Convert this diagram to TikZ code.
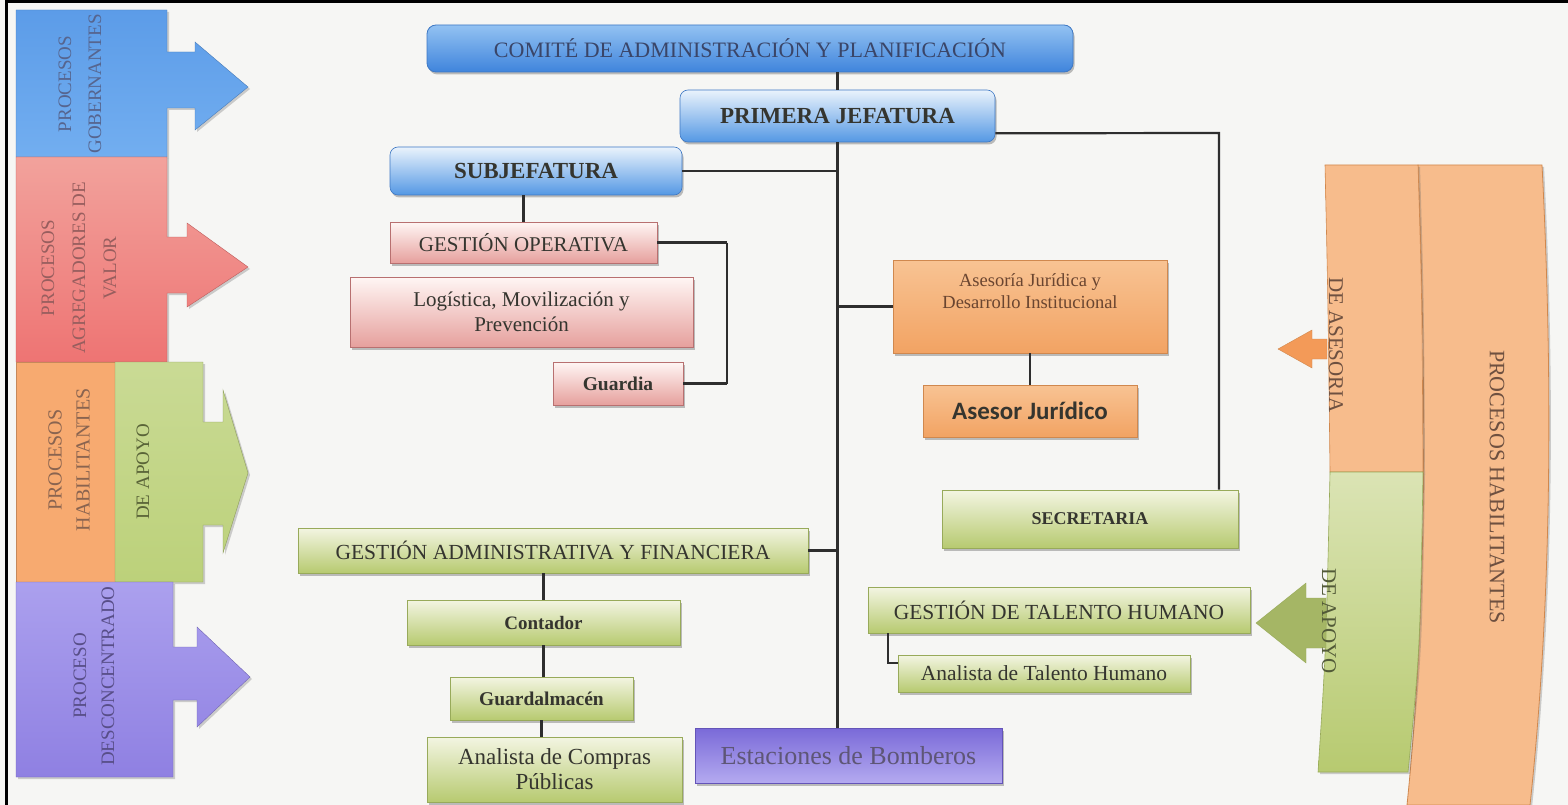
\documentclass[tikz,border=0pt]{standalone}
\usepackage{fontspec}
\setmainfont{Liberation Serif}
\newfontfamily\carlito{Carlito}
\usetikzlibrary{shadows,calc}
\definecolor{bgc}{HTML}{F6F6F4}
\definecolor{linec}{HTML}{2E2E2E}
\definecolor{blueD}{HTML}{3E78C4}
\definecolor{blueL}{HTML}{EAF3FC}
\definecolor{blueM}{HTML}{5498E4}
\definecolor{blueT}{HTML}{93C2F2}
\definecolor{blueB}{HTML}{3F84DC}
\definecolor{pinkL}{HTML}{FFF6F4}
\definecolor{pinkM}{HTML}{E6A09D}
\definecolor{pinkD}{HTML}{B87070}
\definecolor{orL}{HTML}{F8C393}
\definecolor{orM}{HTML}{F2A363}
\definecolor{orD}{HTML}{D0884E}
\definecolor{grL}{HTML}{F3F5E2}
\definecolor{grM}{HTML}{B7CA70}
\definecolor{grD}{HTML}{98AA5A}
\definecolor{puT}{HTML}{7A6AD8}
\definecolor{puB}{HTML}{B4AAF0}
\definecolor{puD}{HTML}{6454B8}
\definecolor{txt}{HTML}{35352F}
\definecolor{comtxt}{HTML}{3A4568}
\definecolor{asetxt}{HTML}{6A4530}
\definecolor{esttxt}{HTML}{5E5676}
\definecolor{bandBlue1}{HTML}{5C9CE8}
\definecolor{bandBlue2}{HTML}{72AEF0}
\definecolor{bandBlueT}{HTML}{56658F}
\definecolor{bandRed1}{HTML}{F2A29C}
\definecolor{bandRed2}{HTML}{EE7473}
\definecolor{bandRedT}{HTML}{985E5E}
\definecolor{bandOr}{HTML}{F7AA70}
\definecolor{bandOrT}{HTML}{8A6450}
\definecolor{bandGr}{HTML}{BCD17A}
\definecolor{bandGrT}{HTML}{5A6438}
\definecolor{bandPu1}{HTML}{ABA0EE}
\definecolor{bandPu2}{HTML}{8F80E2}
\definecolor{bandPuT}{HTML}{584E88}
\definecolor{rOrA}{HTML}{F7BC8C}
\definecolor{rOrB}{HTML}{F39A58}
\definecolor{rOrT}{HTML}{6E5040}
\definecolor{rGrT}{HTML}{525A38}
\tikzset{
  conn/.style={draw=linec, line width=2.2pt},
  shad/.style={drop shadow={shadow xshift=1.5pt, shadow yshift=-2.5pt, opacity=0.35, fill=black!70}},
  bandshad/.style={drop shadow={shadow xshift=2pt, shadow yshift=-2pt, opacity=0.3, fill=black!60}},
  bluebig/.style={shad, rounded corners=9pt, draw=blueD, line width=0.8pt, top color=blueT, bottom color=blueB, inner sep=2pt},
  bluebox/.style={shad, rounded corners=8pt, draw=blueD, line width=0.6pt, top color=blueL, bottom color=blueM, inner sep=2pt, text=txt, font=\fontsize{23}{27}\selectfont\bfseries},
  pinkbox/.style={shad, draw=pinkD, line width=0.6pt, top color=pinkL, bottom color=pinkM, inner sep=2pt, align=center, text=txt},
  orbox/.style={shad, draw=orD, line width=0.6pt, top color=orL, bottom color=orM, inner sep=2pt, align=center},
  grbox/.style={shad, draw=grD, line width=0.6pt, top color=grL, bottom color=grM, inner sep=2pt, align=center, text=txt},
  pubox/.style={shad, draw=puD, line width=0.6pt, top color=puT, bottom color=puB, inner sep=2pt, text=esttxt},
  bandtxt/.style={align=center, inner sep=0pt},
}
\begin{document}
\begin{tikzpicture}[x=1pt,y=-1pt]
\useasboundingbox (0,0) rectangle (1568,805);
\fill[bgc] (0,0) rectangle (1568,805);
\draw[black, line width=3pt] (6,805) -- (6,1.5) -- (1568,1.5);

% ---------- left bands ----------
\path[bandshad, top color=bandBlue1, bottom color=bandBlue2, draw=bandBlue1!80!black, line width=0.4pt]
  (16,10) -- (167,10) -- (167,52) -- (195,52) -- (195,42) -- (248,87) -- (195,130) -- (195,108) -- (167,108) -- (167,157) -- (16,157) -- cycle;
\path[bandshad, top color=bandRed1, bottom color=bandRed2, draw=bandRed2!80!black, line width=0.4pt]
  (16,157) -- (167,157) -- (167,237) -- (187,237) -- (187,223) -- (248,267) -- (187,307) -- (187,293) -- (167,293) -- (167,362) -- (16,362) -- cycle;
\path[bandshad, fill=bandOr, draw=bandOr!80!black, line width=0.4pt]
  (16,362) rectangle (115,582);
\path[bandshad, top color=bandGr!80!white, bottom color=bandGr, draw=bandGr!75!black, line width=0.4pt]
  (115,362) -- (203,362) -- (203,422) -- (223,422) -- (223,390) -- (248,473) -- (223,553) -- (223,525) -- (203,525) -- (203,582) -- (115,582) -- cycle;
\path[bandshad, top color=bandPu1, bottom color=bandPu2, draw=bandPu2!80!black, line width=0.4pt]
  (16,582) -- (173,582) -- (173,647) -- (197,647) -- (197,627) -- (250,677) -- (197,727) -- (197,700) -- (173,700) -- (173,777) -- (16,777) -- cycle;

\node[bandtxt, rotate=90, text=bandBlueT, font=\fontsize{19}{30}\selectfont] (tgob) at (80,84) {PROCESOS\\GOBERNANTES};
\node[bandtxt, rotate=90, text=bandRedT, font=\fontsize{19}{31}\selectfont] (tagr) at (79,268) {PROCESOS\\AGREGADORES DE\\VALOR};
\node[bandtxt, rotate=90, text=bandOrT, font=\fontsize{20}{28}\selectfont] (thab) at (69,460) {PROCESOS\\HABILITANTES};
\node[bandtxt, rotate=90, text=bandGrT, font=\fontsize{19}{28}\selectfont] (tapo) at (143,472) {DE APOYO};
\node[bandtxt, rotate=90, text=bandPuT, font=\fontsize{19}{28}\selectfont] (tdes) at (94,676) {PROCESO\\DESCONCENTRADO};

% ---------- right bands ----------
\path[bandshad, top color=rOrA, middle color=rOrB, bottom color=rOrA, draw=orD, line width=0.8pt]
  (1418,165) -- (1542,165) .. controls (1553,380) and (1552,600) .. (1530,805) -- (1407,805) .. controls (1428,600) and (1426,380) .. (1418,165) -- cycle;
\path[bandshad, top color=rOrA, middle color=rOrB, bottom color=rOrA, draw=orD, line width=0.6pt]
  (1325,165) -- (1418,165) .. controls (1422,300) .. (1423,472) -- (1330,472) .. controls (1328,300) .. (1325,165) -- cycle;
\path[bandshad, top color=grL!60!grM, bottom color=grM, draw=grD, line width=0.6pt]
  (1330,472) -- (1423,472) .. controls (1420,650) .. (1408,772) -- (1318,772) .. controls (1326,650) .. (1330,472) -- cycle;
\path[fill=rOrB, draw=orD, line width=0.4pt]
  (1327,339) -- (1312,339) -- (1312,330) -- (1278,349) -- (1312,368) -- (1312,359) -- (1327,359) -- cycle;
\path[fill=grM!90!black, draw=grD, line width=0.4pt]
  (1326,598) -- (1306,598) -- (1306,583) -- (1256,623) -- (1306,663) -- (1306,648) -- (1326,648) -- cycle;
\node[bandtxt, rotate=-90, text=rOrT, font=\fontsize{21}{25}\selectfont] (tase) at (1336,345) {DE ASESORIA};
\node[bandtxt, rotate=-90, text=rGrT, font=\fontsize{21}{25}\selectfont] (tapr) at (1329,621) {DE APOYO};
\node[bandtxt, rotate=-90, text=rOrT, font=\fontsize{22}{26}\selectfont] (tph) at (1497,487) {PROCESOS HABILITANTES};

% ---------- org chart boxes ----------
\node[bluebig, minimum width=646pt, minimum height=47pt, text=comtxt, font=\fontsize{22}{26}\selectfont] (comite) at (750,48.5) {COMITÉ DE ADMINISTRACIÓN Y PLANIFICACIÓN};
\node[bluebox, minimum width=315pt, minimum height=52pt] (primera) at (837.5,116) {PRIMERA JEFATURA};
\node[bluebox, minimum width=292pt, minimum height=48pt] (subje) at (536,171) {SUBJEFATURA};

\node[pinkbox, minimum width=267pt, minimum height=41pt, font=\fontsize{21}{25}\selectfont] (gop) at (523.5,242.5) {GESTIÓN OPERATIVA};
\node[pinkbox, minimum width=343pt, minimum height=70pt, font=\fontsize{21}{25}\selectfont] (logi) at (521.5,312) {Logística, Movilización y\\Prevención};
\node[pinkbox, minimum width=130pt, minimum height=43pt, font=\fontsize{19.5}{23}\selectfont\bfseries] (guardia) at (618,383.5) {Guardia};

\node[orbox, minimum width=274pt, minimum height=93pt] (aseso) at (1030,306.5) {};
\node[align=center, inner sep=0pt, text=asetxt, font=\fontsize{18.5}{22}\selectfont] (asesoT) at (1030,291) {Asesoría Jurídica y\\Desarrollo Institucional};
\node[orbox, minimum width=214pt, minimum height=52pt, text=txt, font=\carlito\fontsize{25}{29}\selectfont\bfseries] (asesor) at (1030,411) {Asesor Jurídico};

\node[grbox, minimum width=296pt, minimum height=58pt, font=\fontsize{18}{22}\selectfont\bfseries] (secre) at (1090,519) {SECRETARIA};
\node[grbox, minimum width=510pt, minimum height=45pt, font=\fontsize{21.5}{25}\selectfont] (gaf) at (553,550.5) {GESTIÓN ADMINISTRATIVA Y FINANCIERA};
\node[grbox, minimum width=273pt, minimum height=45pt, font=\fontsize{19}{23}\selectfont\bfseries] (conta) at (543.5,622.5) {Contador};
\node[grbox, minimum width=183pt, minimum height=43pt, font=\fontsize{19.5}{23}\selectfont\bfseries] (guardal) at (541.5,698.5) {Guardalmacén};
\node[grbox, minimum width=255pt, minimum height=65pt, font=\fontsize{23}{25}\selectfont] (compras) at (554.5,769.5) {Analista de Compras\\Públicas};
\node[grbox, minimum width=382pt, minimum height=46pt, font=\fontsize{21.5}{25}\selectfont] (talento) at (1059,610) {GESTIÓN DE TALENTO HUMANO};
\node[grbox, minimum width=292pt, minimum height=37pt, font=\fontsize{21.5}{25}\selectfont] (anatal) at (1044,673.5) {Analista de Talento Humano};
\node[pubox, minimum width=307pt, minimum height=55pt, font=\fontsize{26}{30}\selectfont] (estac) at (848.5,755.5) {Estaciones de Bomberos};

% ---------- connectors ----------
\coordinate (br) at (727,242);
\coordinate (rc) at (1219,133);
\draw[conn] (primera.north |- comite.south) -- (primera.north);
\draw[conn] (primera.south) -- (primera.south |- estac.north);
\draw[conn] (subje.east) -- (subje.east -| primera.south);
\draw[conn] (gop.north |- subje.south) -- (gop.north);
\draw[conn] (gop.east) -- (gop.east -| br);
\draw[conn] ($(logi.north east)+(0,15)$) -- ($(logi.north east)+(0,15)$ -| br);
\draw[conn] (guardia.east) -- (guardia.east -| br);
\draw[conn] (gop.east -| br) -- (guardia.east -| br);
\draw[conn] ($(primera.south east)+(0,-9)$) -- (rc) -- (rc |- secre.north);
\draw[conn] (aseso.west -| primera.south) -- (aseso.west);
\draw[conn] (aseso.south) -- (asesor.north);
\draw[conn] (gaf.east) -- (gaf.east -| primera.south);
\draw[conn] (conta.north |- gaf.south) -- (conta.north);
\draw[conn] (conta.south) -- (conta.south |- guardal.north);
\draw[conn] (guardal.south) -- (guardal.south |- compras.north);
\draw[conn] ($(talento.north west)+(0,7)$ -| primera.south) -- ($(talento.north west)+(0,7)$);
\draw[conn] ($(talento.south west)+(20,0)$) |- ($(anatal.north west)+(0,8)$);
\end{tikzpicture}
\end{document}
